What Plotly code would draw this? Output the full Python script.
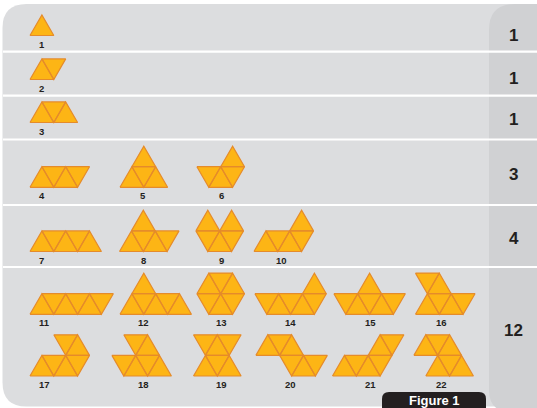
import math
import plotly.graph_objects as go

# ---------------- data ----------------
# Each polyiamond: list of (k, r) cells on a triangular grid
# (k = half-step column, r = row from bottom; up if (k+r) even)
shape_ids = list(range(1, 23))
shape_cells = [
    [(0, 0)],                                              # 1
    [(0, 0), (1, 0)],                                      # 2
    [(0, 0), (1, 0), (2, 0)],                              # 3
    [(0, 0), (1, 0), (2, 0), (3, 0)],                      # 4
    [(0, 0), (1, 0), (2, 0), (1, 1)],                      # 5
    [(1, 0), (2, 0), (3, 0), (3, 1)],                      # 6
    [(0, 0), (1, 0), (2, 0), (3, 0), (4, 0)],              # 7
    [(0, 0), (1, 0), (2, 0), (3, 0), (1, 1)],              # 8
    [(1, 0), (2, 0), (3, 0), (1, 1), (3, 1)],              # 9
    [(0, 0), (1, 0), (2, 0), (3, 0), (3, 1)],              # 10
    [(0, 0), (1, 0), (2, 0), (3, 0), (4, 0), (5, 0)],      # 11
    [(0, 0), (1, 0), (2, 0), (3, 0), (4, 0), (1, 1)],      # 12
    [(1, 0), (2, 0), (3, 0), (1, 1), (2, 1), (3, 1)],      # 13
    [(1, 0), (2, 0), (3, 0), (4, 0), (5, 0), (5, 1)],      # 14
    [(1, 0), (2, 0), (3, 0), (4, 0), (5, 0), (3, 1)],      # 15
    [(0, 0), (1, 0), (2, 0), (3, 0), (0, 1), (1, 1)],      # 16
    [(0, 0), (1, 0), (2, 0), (3, 0), (2, 1), (3, 1)],      # 17
    [(1, 0), (2, 0), (3, 0), (4, 0), (2, 1), (3, 1)],      # 18
    [(0, 0), (1, 0), (2, 0), (0, 1), (1, 1), (2, 1)],      # 19
    [(3, 0), (4, 0), (5, 0), (1, 1), (2, 1), (3, 1)],      # 20
    [(0, 0), (1, 0), (2, 0), (3, 0), (3, 1), (4, 1)],      # 21
    [(2, 0), (3, 0), (4, 0), (1, 1), (2, 1), (3, 1)],      # 22
]
row_counts = ["1", "1", "1", "3", "4", "12"]
figure_title = "Figure 1"

# ---------------- layout (positions, sizes) ----------------
W, H = 537, 408
S = 23.8
HT = S * math.sqrt(3) / 2
shape_x0 = [30, 30, 30, 30, 120, 185, 30, 119.5, 184, 254,
            30, 120, 185, 243, 322, 415.5,
            30, 100, 193.5, 244, 332.5, 402]
shape_base = [35.5, 79.5, 122.5, 187.3, 187.3, 187.3,
              251.5, 251.5, 251.5, 251.5,
              314.3, 314.3, 314.3, 314.3, 314.3, 314.3,
              376, 376, 376, 376, 376, 376]
label_x = [41.7, 41.7, 41.7, 41.7, 143.3, 221, 41.7, 143.3, 221, 281.7,
           44.3, 143.3, 221, 290, 370, 441, 44.3, 143.3, 221, 290, 370, 441.7]
row_sep_y = [51.7, 95.7, 139.5, 205, 267]
count_y = [35, 78, 119.5, 174, 238.5, 330]
count_x = 513.5

FILL = "#FDB515"
EDGE = "#E58B2B"
PANEL = "#DCDDDF"
COLUMN = "#D0D1D3"
DARK = "#231F20"
FONT = "Liberation Sans Narrow, Arial Narrow, Liberation Sans, Arial"


def tri(x0, yb, k, r):
    xl = x0 + k * S / 2
    ybot = yb - r * HT
    ytop = yb - (r + 1) * HT
    if (k + r) % 2 == 0:
        pts = [(xl, ybot), (xl + S, ybot), (xl + S / 2, ytop)]
    else:
        pts = [(xl, ytop), (xl + S, ytop), (xl + S / 2, ybot)]
    return pts


fig = go.Figure()

for i, cells in enumerate(shape_cells):
    xs, ys = [], []
    for (k, r) in cells:
        pts = tri(shape_x0[i], shape_base[i], k, r)
        pts = pts + [pts[0]]
        xs += [p[0] for p in pts] + [None]
        ys += [p[1] for p in pts] + [None]
    fig.add_trace(go.Scatter(
        x=xs, y=ys, mode="lines", fill="toself", fillcolor=FILL,
        line=dict(color=EDGE, width=1.2), hoverinfo="skip", showlegend=False))


def rounded_path(x0, y0, x1, y1, rtl=0, rtr=0, rbr=0, rbl=0):
    p = f"M {x0 + rtl},{y0} L {x1 - rtr},{y0} "
    p += f"Q {x1},{y0} {x1},{y0 + rtr} " if rtr else ""
    p += f"L {x1},{y1 - rbr} "
    p += f"Q {x1},{y1} {x1 - rbr},{y1} " if rbr else ""
    p += f"L {x0 + rbl},{y1} "
    p += f"Q {x0},{y1} {x0},{y1 - rbl} " if rbl else ""
    p += f"L {x0},{y0 + rtl} "
    p += f"Q {x0},{y0} {x0 + rtl},{y0} " if rtl else ""
    return p + "Z"


shapes = [
    dict(type="path", path=rounded_path(2.5, 4, 540, 406.5, rtl=24, rbl=24),
         fillcolor=PANEL, line=dict(width=0), layer="below",
         xref="x", yref="y"),
    dict(type="path", path=rounded_path(489, 4, 540, 412, rtl=26, rbl=22),
         fillcolor=COLUMN, line=dict(width=0), layer="below",
         xref="x", yref="y"),
]
for y in row_sep_y:
    shapes.append(dict(type="line", x0=3, x1=540, y0=y, y1=y,
                       line=dict(color="white", width=2.2), layer="below",
                       xref="x", yref="y"))
shapes.append(dict(type="path", path=rounded_path(382, 392, 486, 420, rtl=7, rtr=7),
                   fillcolor=DARK, line=dict(width=0), layer="above",
                   xref="x", yref="y"))

annotations = []
for i, sid in enumerate(shape_ids):
    annotations.append(dict(
        x=label_x[i], y=shape_base[i] + 8.5, text=f"<b>{sid}</b>",
        showarrow=False, xanchor="center", yanchor="middle",
        font=dict(family=FONT, size=9.5, color=DARK)))
for y, c in zip(count_y, row_counts):
    annotations.append(dict(
        x=count_x, y=y, text=f"<b>{c}</b>", showarrow=False,
        xanchor="center", yanchor="middle",
        font=dict(family=FONT, size=17, color=DARK)))
annotations.append(dict(
    x=434, y=400, text=f"<b>{figure_title}</b>", showarrow=False,
    xanchor="center", yanchor="middle", borderpad=0,
    font=dict(family=FONT, size=13, color="white")))

fig.update_layout(
    width=W, height=H,
    margin=dict(l=0, r=0, t=0, b=0),
    paper_bgcolor="white", plot_bgcolor="white",
    xaxis=dict(range=[0, W], visible=False, fixedrange=True),
    yaxis=dict(range=[H, 0], visible=False, fixedrange=True),
    shapes=shapes, annotations=annotations, showlegend=False,
)

fig.write_html(
    "out.html",
    config={"displayModeBar": False},
    post_script="document.body.style.margin='0';document.body.style.overflow='hidden';",
)
